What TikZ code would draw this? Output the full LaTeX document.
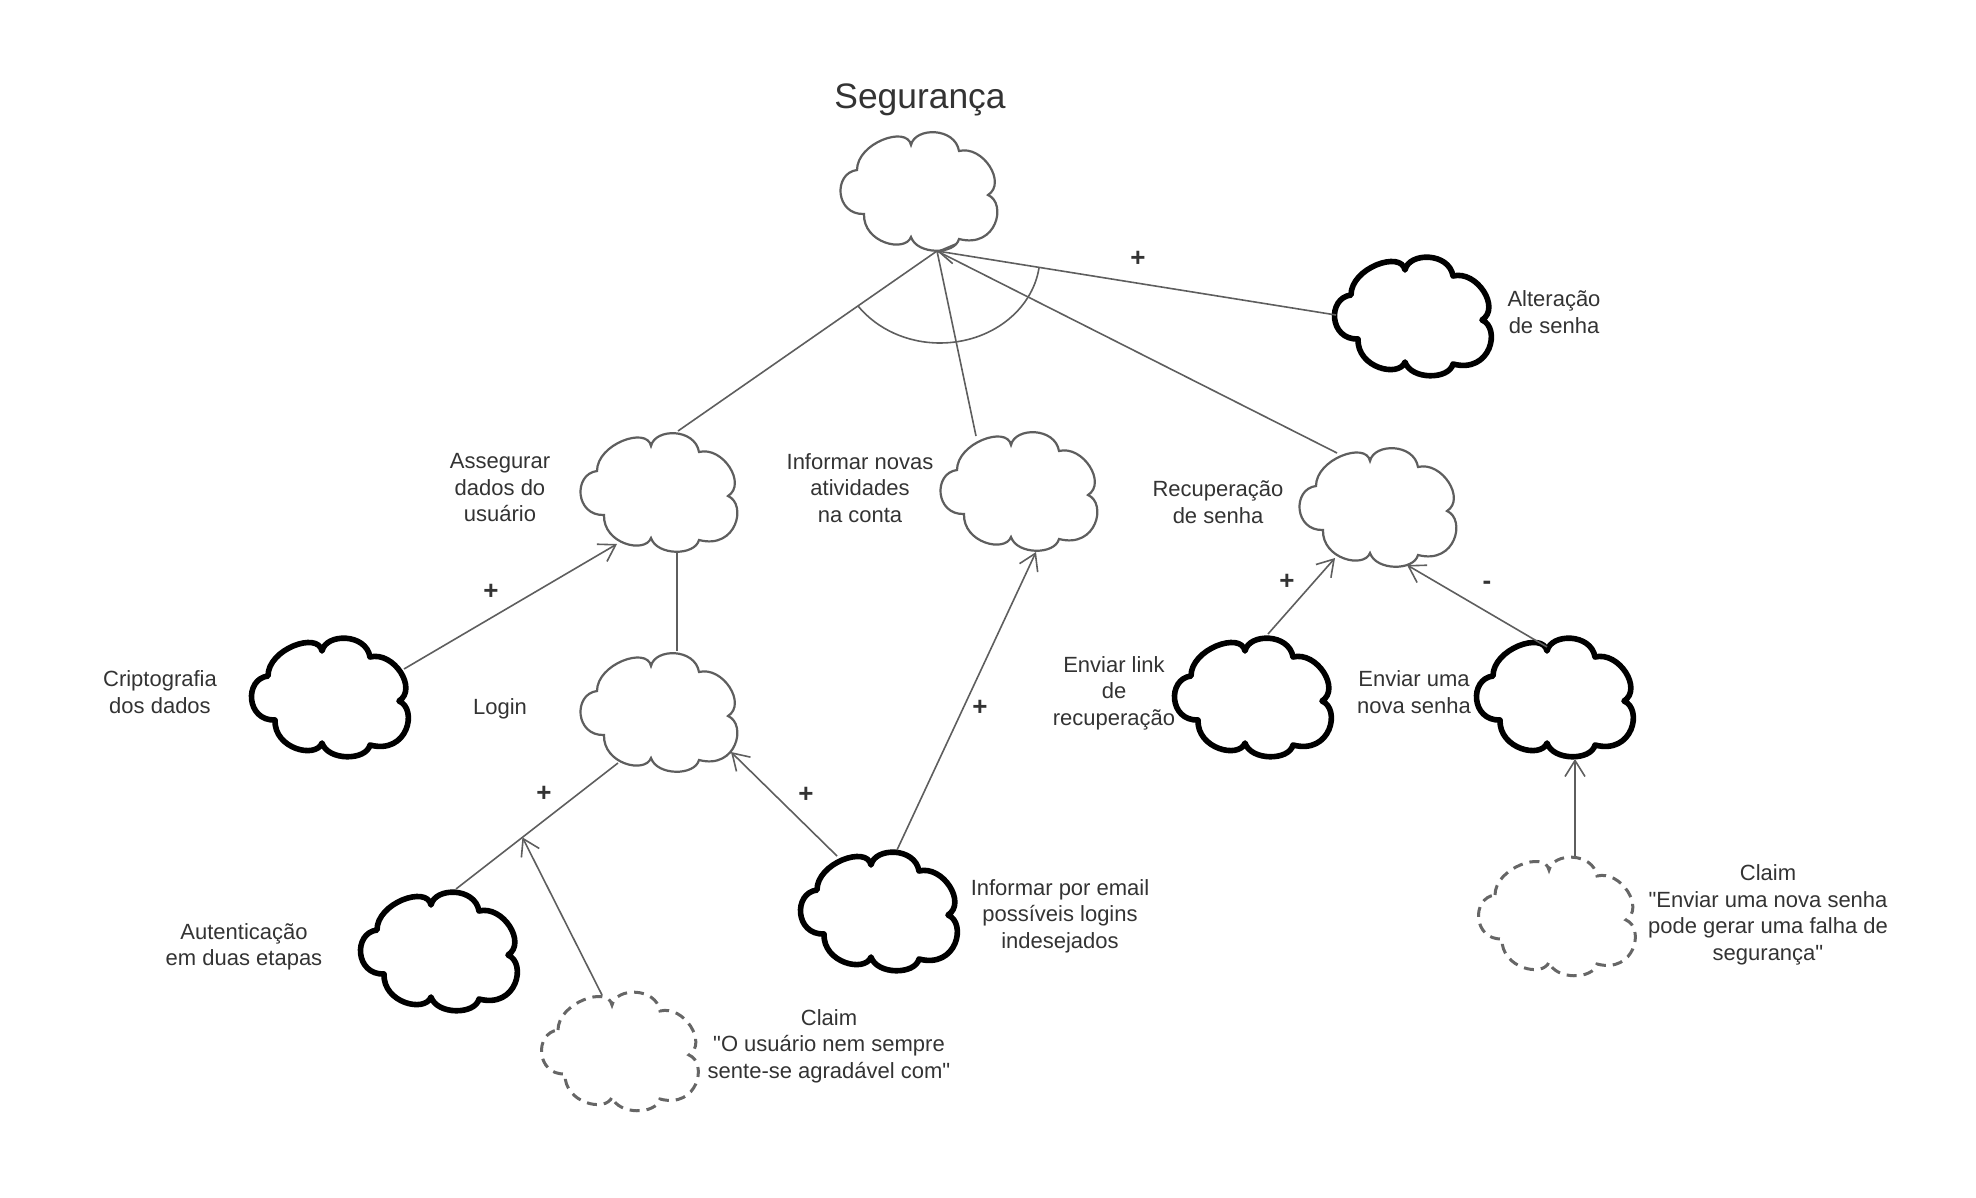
\documentclass[tikz,border=0pt]{standalone}
\usepackage{fontspec}
\setmainfont{Liberation Sans}[Ligatures=TeXOff]
\usetikzlibrary{arrows.meta,calc}
\definecolor{linegray}{HTML}{5E5E5E}
\definecolor{txt}{HTML}{333333}
\definecolor{dashgray}{HTML}{666666}
\tikzset{
  cloud/.pic={
    \path[pic actions] (-62,-21)
      .. controls (-62,-48) and (-12,-66) .. (-8,-46)
      .. controls (-4,-64) and (36,-64) .. (40,-40)
      .. controls (64,-46) and (88,-8) .. (69,4)
      .. controls (88,12) and (78,58) .. (40,48)
      .. controls (36,64) and (-2,64) .. (-8,46)
      .. controls (-14,62) and (-56,52) .. (-55,23)
      .. controls (-84,24) and (-86,-18) .. (-62,-21) -- cycle;
  },
  thincloud/.style={draw=linegray, line width=1.1pt, fill=white},
  thickcloud/.style={draw=black, line width=2.8pt, fill=white, line join=round},
  claimcloud/.style={draw=dashgray, line width=1.5pt, dash pattern=on 5pt off 3.5pt, fill=white},
  anchorbox/.style={inner sep=0pt, minimum width=78pt, minimum height=59pt},
  conn/.style={draw=linegray, line width=0.8pt},
  arr/.style={conn, -{Straight Barb[length=8pt, width=10pt]}},
  lbl/.style={text=txt, font=\fontsize{11pt}{13.25pt}\selectfont, align=center, inner sep=0pt},
  sign/.style={text=txt, font=\fontsize{13pt}{14pt}\selectfont\bfseries, inner sep=0pt},
}
\begin{document}
\begin{tikzpicture}[x=0.5pt, y=-0.5pt]
\useasboundingbox (0,0) rectangle (1976,1198);

% ---------- clouds ----------
\pic[thincloud] at (919,191) {cloud};   \node[anchorbox] (seg) at (919,191) {};
\pic[thickcloud] at (1413,316) {cloud}; \node[anchorbox] (alt) at (1413,316) {};
\pic[thincloud] at (659,492) {cloud};   \node[anchorbox] (ass) at (659,492) {};
\pic[thincloud] at (1019,491) {cloud};  \node[anchorbox] (inf) at (1019,491) {};
\pic[thincloud] at (659,712) {cloud};   \node[anchorbox] (login) at (659,712) {};
\pic[thincloud] at (1378,507) {cloud};  \node[anchorbox] (rec) at (1378,507) {};
\pic[thickcloud] at (1253,697) {cloud}; \node[anchorbox] (link) at (1253,697) {};
\pic[thickcloud] at (1555,697) {cloud}; \node[anchorbox] (nova) at (1555,697) {};
\pic[thickcloud] at (330,697) {cloud};  \node[anchorbox] (cri) at (330,697) {};
\pic[thickcloud] at (439,951) {cloud};  \node[anchorbox] (aut) at (439,951) {};
\pic[thickcloud] at (879,911) {cloud};  \node[anchorbox] (email) at (879,911) {};
\pic[claimcloud] at (620,1051) {cloud}; \node[anchorbox] (clL) at (620,1051) {};
\pic[claimcloud] at (1557,916) {cloud}; \node[anchorbox] (clR) at (1557,916) {};

% ---------- connectors ----------
\coordinate (segB) at ($(seg.center)+(18,60)$);
\draw[conn] (segB) -- ($(ass.center)+(19,-61)$);
\draw[conn] (segB) -- ($(inf.center)+(-43,-55)$);
\draw[conn] (segB) -- ($(rec.center)+(-41,-54)$);
\draw[arr] ($(alt.center)+(-77,-1)$) -- (segB);
\draw[conn] (858,306) .. controls (877,329) and (907,343) .. (940,343)
            .. controls (990,343) and (1032,311) .. (1039,268);

\draw[arr] ($(cri.center)+(74,-28)$) -- ($(ass.center)+(-42,52)$);
\draw[conn] ($(ass.center)+(18,59)$) -- ($(login.center)+(18,-61)$);

\coordinate (autTop) at ($(aut.center)+(17,-62)$);
\coordinate (logBL) at ($(login.center)+(-41,51)$);
\draw[conn] (autTop) -- (logBL);
\coordinate (claimTip) at ($(autTop)!0.41!(logBL)$);
\draw[arr] ($(clL.center)+(-18,-56)$) -- (claimTip);

\draw[arr] ($(email.center)+(-42,-55)$) -- ($(login.center)+(72,40)$);
\draw[arr] ($(email.center)+(18,-61)$) -- ($(inf.center)+(17,61)$);

\draw[arr] ($(link.center)+(15,-63)$) -- ($(rec.center)+(-43,51)$);
\draw[arr] ($(nova.center)+(-8,-50)$) -- ($(rec.center)+(29,58)$);
\draw[arr] ($(clR.center)+(18,-60)$) -- ($(nova.center)+(20,62)$);

% ---------- labels ----------
\node[text=txt, font=\fontsize{17.7pt}{20pt}\selectfont, inner sep=0pt] (tseg) at (920,100) {Segurança};
\node[lbl] (talt) at (1554,312) {Alteração\\de senha};
\node[lbl] (tass) at (500,488) {Assegurar\\dados do\\usuário};
\node[lbl] (tinf) at (860,488) {Informar novas\\atividades\\na conta};
\node[lbl] (trec) at (1218,502) {Recuperação\\de senha};
\node[lbl] (tcri) at (160,692) {Criptografia\\dos dados};
\node[lbl] (tlog) at (500,709) {Login};
\node[lbl] (tlink) at (1114,693) {Enviar link\\de\\recuperação};
\node[lbl] (tnova) at (1414,692) {Enviar uma\\nova senha};
\node[lbl] (taut) at (244,947) {Autenticação\\em duas etapas};
\node[lbl] (temail) at (1060,916) {Informar por email\\possíveis logins\\indesejados};
\node[lbl] (tclL) at (829,1046) {Claim\\"O usuário nem sempre\\sente-se agradável com"};
\node[lbl] (tclR) at (1768,915) {Claim\\"Enviar uma nova senha\\pode gerar uma falha de\\segurança"};

\node[sign] (p1) at (1138,259) {+};
\node[sign] (p2) at (491,592) {+};
\node[sign] (p3) at (544,794) {+};
\node[sign] (p4) at (806,795) {+};
\node[sign] (p5) at (980,708) {+};
\node[sign] (p6) at (1287,582) {+};
\node[sign] (m1) at (1487,585) {-};
\end{tikzpicture}
\end{document}
